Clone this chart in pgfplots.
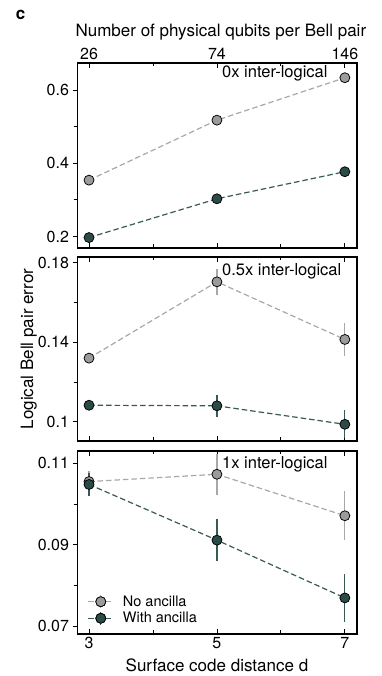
\documentclass[border=0pt]{standalone}
\usepackage{pgfplots}
\pgfplotsset{compat=1.18}
\usepackage{fontspec}
\setmainfont{TeX Gyre Heros}
\definecolor{grayfill}{RGB}{155,155,155}
\definecolor{grayline}{RGB}{168,168,168}
\definecolor{tealfill}{RGB}{42,75,70}
\definecolor{tealline}{RGB}{55,90,84}
\tikzset{annot/.style={anchor=base west, font=\fontsize{16.5}{19}\selectfont, inner sep=0pt}}
\pgfplotsset{
  panel/.style={
    scale only axis, width=279.5pt, anchor=south west,
    xmin=2.82, xmax=7.19,
    xtick={3,5,7}, minor xtick={4,6},
    axis line style={line width=1.6pt},
    xtick align=inside, ytick align=outside,
    ytick pos=left,
    major tick length=5pt, minor tick length=3.5pt,
    tick style={black, line width=0.8pt},
    every tick label/.append style={font=\fontsize{16}{19}\selectfont},
    /pgf/number format/assume math mode=true,
    scaled y ticks=false,
    clip=false,
    label style={font=\fontsize{17}{20}\selectfont},
  },
  noanc/.style={color=grayline, line width=1.2pt, dash pattern=on 5.5pt off 3pt,
    mark=*, mark size=5pt, mark options={solid, fill=grayfill, draw=black, line width=0.75pt},
    error bars/.cd, y dir=both, y explicit, error mark=none,
    error bar style={color=grayline, line width=1.2pt, solid}},
  withanc/.style={color=tealline, line width=1.2pt, dash pattern=on 5.5pt off 3pt,
    mark=*, mark size=5pt, mark options={solid, fill=tealfill, draw=black, line width=0.75pt},
    error bars/.cd, y dir=both, y explicit, error mark=none,
    error bar style={color=tealline, line width=1.2pt, solid}},
}
\begin{document}
\begin{tikzpicture}
\path[use as bounding box] (0pt,0pt) rectangle (381pt,676pt);
\node[font=\bfseries\fontsize{17}{19}\selectfont, inner sep=0pt] at (20.5pt,661pt) {c};

% Panel 1
\begin{axis}[panel, at={(77.5pt,428pt)}, height=185pt,
  ymin=0.1685, ymax=0.6743,
  ytick={0.2,0.4,0.6}, yticklabels={0.2,0.4,0.6}, minor ytick={0.3,0.5},
  xticklabel pos=right, xticklabels={26,74,146},
  xlabel={Number of physical qubits per Bell pair},
  xlabel style={at={(axis description cs:0.513,1.1405)}, anchor=base},
]
\addplot[noanc] table[y error=e] {
x y e
3 0.354 0
5 0.518 0
7 0.634 0
};
\addplot[withanc] table[y error=e] {
x y e
3 0.197 0
5 0.303 0
7 0.377 0
};
\node[annot] at (rel axis cs:0.517,0.919) {0x inter-logical};
\end{axis}

% Panel 2
\begin{axis}[panel, at={(77.5pt,235pt)}, height=184pt,
  ymin=0.0903, ymax=0.1829,
  ytick={0.1,0.14,0.18}, yticklabels={0.1,0.14,0.18}, minor ytick={0.12,0.16},
  xticklabels={,,},
  ylabel={Logical Bell pair error},
  ylabel style={at={(axis description cs:-0.159,0.5)}, anchor=base},
]
\addplot[noanc] table[y error=e] {
x y e
3 0.1320 0.0020
5 0.1704 0.0065
7 0.1414 0.0085
};
\addplot[withanc] table[y error=e] {
x y e
3 0.1083 0.0015
5 0.1080 0.0055
7 0.0987 0.0070
};
\node[annot] at (rel axis cs:0.517,0.902) {0.5x inter-logical};
\end{axis}

% Panel 3
\begin{axis}[panel, at={(77.5pt,42pt)}, height=183pt,
  ymin=0.06803, ymax=0.11302,
  ytick={0.07,0.09,0.11}, yticklabels={0.07,0.09,0.11}, minor ytick={0.08,0.10},
  xticklabels={3,5,7},
  xlabel={Surface code distance d},
  xlabel style={at={(axis description cs:0.499,-0.206)}, anchor=base},
  legend cell align=left,
  legend style={at={(rel axis cs:0.025,0.03)}, anchor=south west, draw=none, fill=none,
    font=\fontsize{14.5}{16}\selectfont, row sep=0.5pt},
  legend image code/.code={\draw[mark repeat=2,mark phase=2,#1] plot coordinates {(0pt,0pt) (12.5pt,0pt) (25pt,0pt)};
    \draw[#1, solid, mark=none, line width=0.8pt] (12.5pt,-6.5pt) -- (12.5pt,6.5pt);
    \draw[#1, solid] plot[mark=*] coordinates {(12.5pt,0pt)};},
]
\addplot[noanc] table[y error=e] {
x y e
3 0.1055 0.0025
5 0.1073 0.0050
7 0.0971 0.0060
};
\addlegendentry{\hspace{7pt}No ancilla}
\addplot[withanc] table[y error=e] {
x y e
3 0.1048 0.0029
5 0.0911 0.0051
7 0.0769 0.0060
};
\addlegendentry{\hspace{7pt}With ancilla}
\node[annot] at (rel axis cs:0.517,0.902) {1x inter-logical};
\end{axis}
\end{tikzpicture}
\end{document}
